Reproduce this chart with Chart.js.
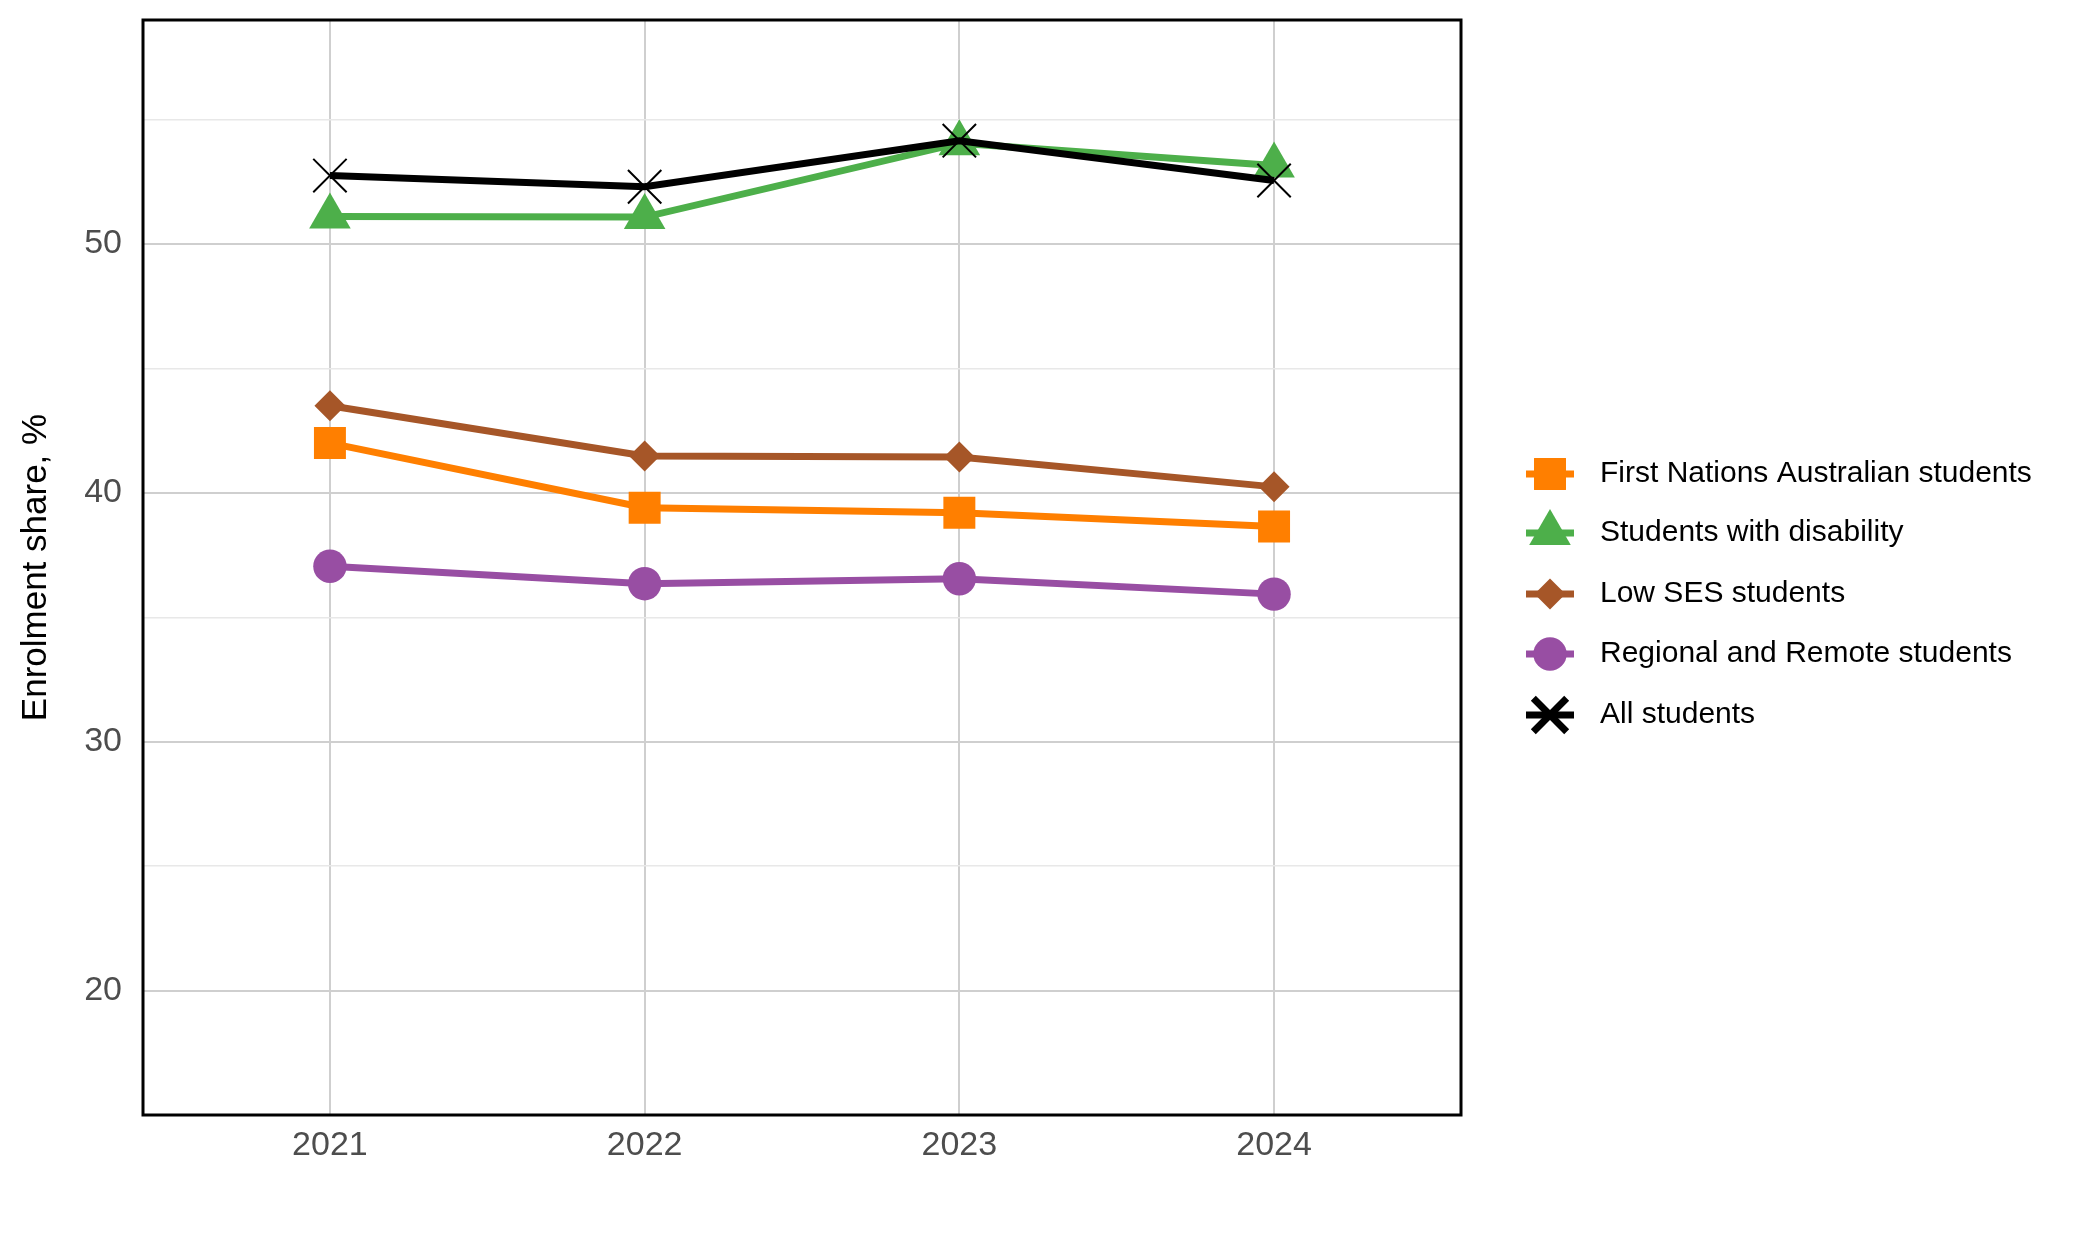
<!DOCTYPE html>
<html>
<head>
<meta charset="utf-8">
<script src="https://cdn.jsdelivr.net/npm/chart.js@4.4.1/dist/chart.umd.min.js"></script>
<style>
  body { margin: 0; background: #fff; }
  #wrap { width: 2075px; height: 1250px; }
</style>
</head>
<body>
<div id="wrap"><canvas id="chart" width="2075" height="1250"></canvas></div>
<script>
// values
const years = [2021, 2022, 2023, 2024];
const firstNations = [42.0, 39.4, 39.2, 38.65];
const disability = [51.1, 51.08, 54.05, 53.15];
const lowSES = [43.5, 41.48, 41.44, 40.24];
const regional = [37.05, 36.35, 36.55, 35.93];
const allStudents = [52.75, 52.3, 54.15, 52.55];
const yTicks = [20, 25, 30, 35, 40, 45, 50, 55];

const seriesNames = [
  "First Nations Australian students",
  "Students with disability",
  "Low SES students",
  "Regional and Remote students",
  "All students"
];

Chart.defaults.font.family = "'Liberation Sans', Arial, sans-serif";

function toPoints(vals) {
  return years.map((y, i) => ({ x: y, y: vals[i] }));
}

function makeSet(label, vals, color, style, radius, order) {
  return {
    label: label,
    data: toPoints(vals),
    borderColor: color,
    backgroundColor: color,
    borderWidth: 7,
    pointStyle: style,
    pointRadius: radius,
    pointHoverRadius: radius,
    pointBackgroundColor: color,
    pointBorderColor: color,
    pointBorderWidth: style === "crossRot" ? 2 : 0,
    tension: 0,
    order: order
  };
}

const datasets = [
  makeSet(seriesNames[0], firstNations, "#FF7F00", "rect", 22.6, 1),
  makeSet(seriesNames[1], disability, "#4DAF4A", "triangle", 24, 1),
  makeSet(seriesNames[2], lowSES, "#A65628", "rectRot", 15.5, 1),
  makeSet(seriesNames[3], regional, "#984EA3", "circle", 16.7, 1),
  makeSet(seriesNames[4], allStudents, "#000000", "crossRot", 23.6, 0)
];

const noPadding = () => ({ left: 0, right: 0, top: 0, bottom: 0 });

// frame round the plot + legend on the right
const framePlugin = {
  id: "frame",
  afterDraw(chart) {
    const ctx = chart.ctx;
    const a = chart.chartArea;
    ctx.save();
    ctx.strokeStyle = "#000";
    ctx.lineWidth = 3;
    ctx.strokeRect(a.left, a.top, a.right - a.left, a.bottom - a.top);

    const legendY = [474, 533, 594, 654, 715];
    chart.data.datasets.forEach((ds, i) => {
      const y = legendY[i];
      ctx.strokeStyle = ds.borderColor;
      ctx.lineWidth = 7;
      ctx.beginPath();
      ctx.moveTo(1526, y);
      ctx.lineTo(1574, y);
      ctx.stroke();
      ctx.fillStyle = ds.pointBackgroundColor;
      ctx.strokeStyle = ds.pointBorderColor;
      Chart.helpers.drawPoint(ctx, {
        pointStyle: ds.pointStyle,
        radius: ds.pointRadius,
        rotation: 0,
        borderWidth: ds.pointBorderWidth
      }, 1550, y);
      ctx.fillStyle = "#000";
      ctx.font = "30px 'Liberation Sans', Arial, sans-serif";
      ctx.textBaseline = "middle";
      ctx.textAlign = "left";
      ctx.fillText(ds.label, 1600, y);
    });
    ctx.restore();
  }
};

new Chart(document.getElementById("chart"), {
  type: "line",
  data: { datasets: datasets },
  plugins: [framePlugin],
  options: {
    responsive: false,
    animation: false,
    layout: { autoPadding: false, padding: { left: 0, right: 614, top: 20, bottom: 0 } },
    scales: {
      x: {
        type: "linear",
        min: 2020.406,
        max: 2024.594,
        afterBuildTicks: s => { s.ticks = years.map(v => ({ value: v })); },
        afterFit: s => { s.height = 135; s.getPadding = noPadding; },
        grid: { color: "#CFCFCF", lineWidth: 2, drawTicks: false },
        border: { display: false },
        ticks: {
          padding: 10,
          color: "#4D4D4D",
          font: { size: 34 },
          callback: v => String(v)
        }
      },
      y: {
        min: 15,
        max: 59,
        afterBuildTicks: s => { s.ticks = yTicks.map(v => ({ value: v })); },
        afterFit: s => { s.width = 143; s.getPadding = noPadding; },
        grid: {
          drawTicks: false,
          color: c => (c.tick && c.tick.value % 10 === 0 ? "#CFCFCF" : "#E8E8E8"),
          lineWidth: c => (c.tick && c.tick.value % 10 === 0 ? 2 : 1.5)
        },
        border: { display: false },
        ticks: {
          padding: 21,
          autoSkip: false,
          color: "#4D4D4D",
          font: { size: 34 },
          callback: v => (v % 10 === 0 ? String(v) : "")
        },
        title: {
          display: true,
          text: "Enrolment share, %",
          color: "#000",
          font: { size: 35 },
          padding: { top: 15, bottom: 0 }
        }
      }
    },
    plugins: {
      legend: { display: false },
      tooltip: { enabled: false }
    }
  }
});
</script>
</body>
</html>
